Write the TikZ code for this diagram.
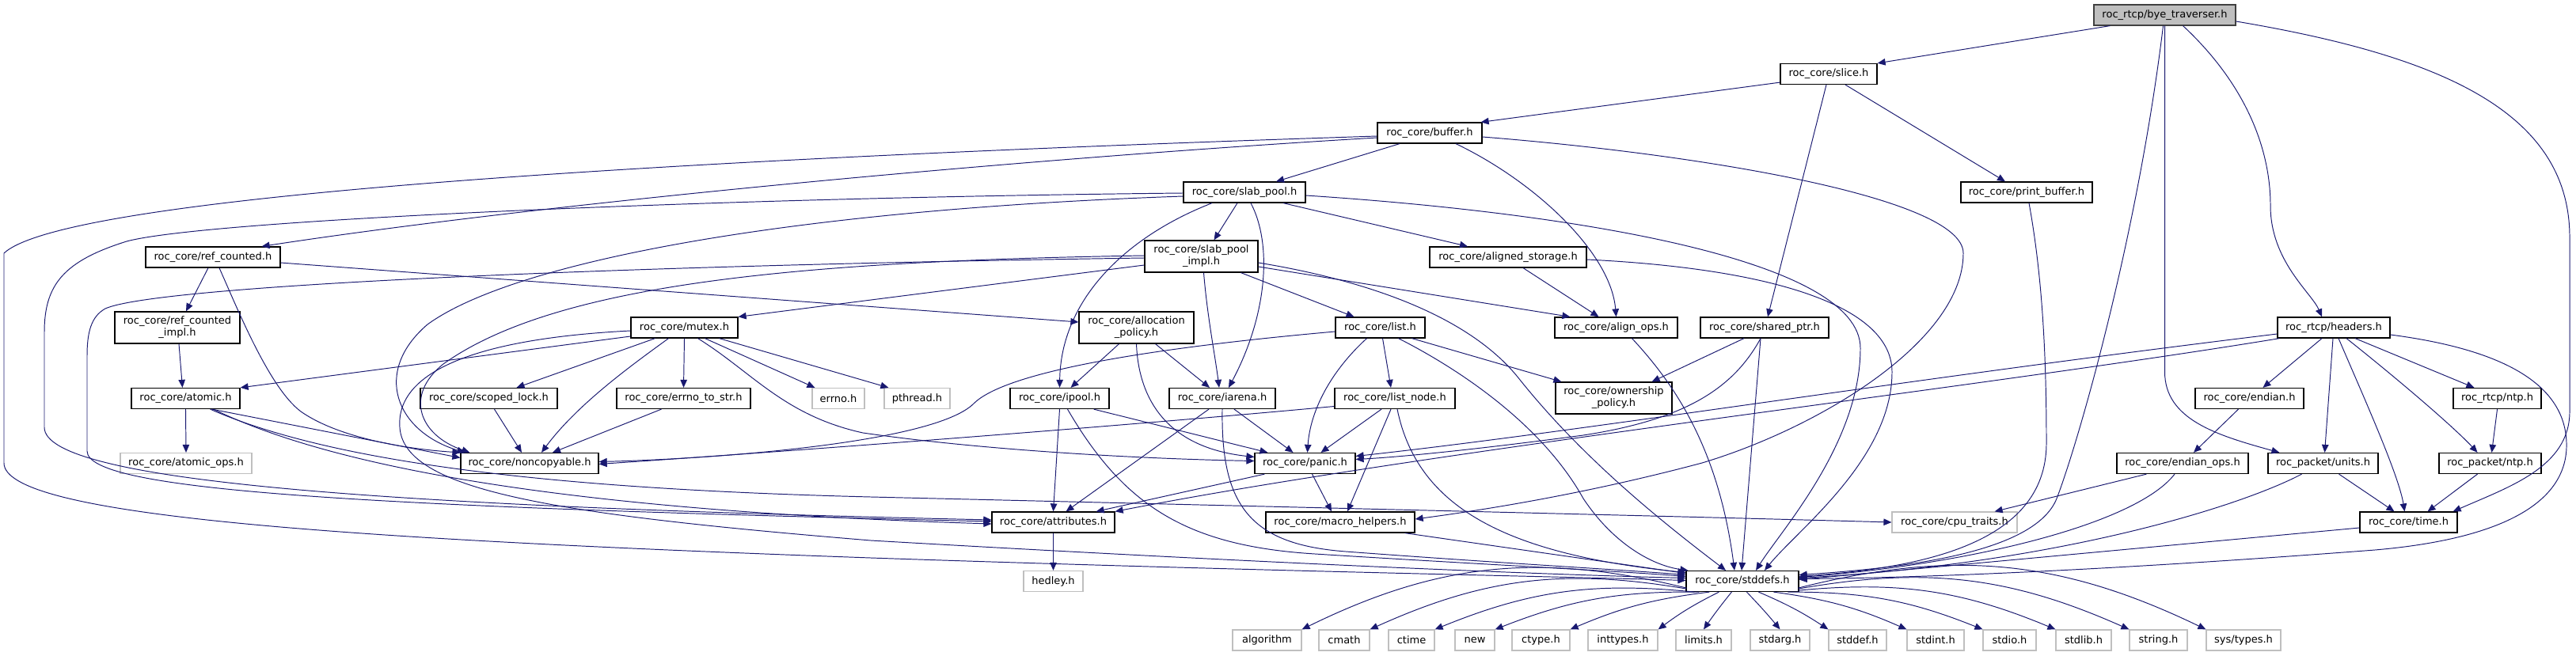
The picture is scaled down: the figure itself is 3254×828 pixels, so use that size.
\documentclass[tikz,border=0pt]{standalone}
\usepackage{fontspec}
\setmainfont{DejaVu Sans}
\usepackage{tikz}
\usetikzlibrary{arrows.meta, calc}
\definecolor{depblue}{RGB}{25,25,112}
\definecolor{sysgray}{RGB}{191,191,191}
\definecolor{rootline}{RGB}{64,64,64}

\begin{document}
\begin{tikzpicture}[
  x=0.02cm, y=-0.02cm,
  font=\fontsize{7.4}{8.6}\selectfont,
  hdr/.style={draw=black, line width=0.7pt, fill=white, inner sep=0pt, minimum height=0.52cm, align=center},
  hdr2/.style={hdr, minimum height=0.8cm},
  syshdr/.style={hdr, draw=sysgray},
  roothdr/.style={hdr, fill=sysgray, draw=rootline},
  wd/.style={minimum width=#1*0.02cm},
  dep/.style={draw=depblue, line width=0.55pt, -{Triangle[length=0.2cm, width=0.17cm]}}
]
  \useasboundingbox (0,0) rectangle (3254,828);

  \node[roothdr, wd=179] (bye) at (2734.5,19) {roc\_rtcp/bye\_traverser.h};
  \node[hdr, wd=122] (slice) at (2310,93.5) {roc\_core/slice.h};
  \node[hdr, wd=132] (buffer) at (1806,168) {roc\_core/buffer.h};
  \node[hdr, wd=154] (slabpool) at (1572,243) {roc\_core/slab\_pool.h};
  \node[hdr, wd=166] (printbuf) at (2560,243) {roc\_core/print\_buffer.h};
  \node[hdr, wd=170] (refcnt) at (269,325) {roc\_core/ref\_counted.h};
  \node[hdr2, wd=143] (slabimpl) at (1517.5,324) {roc\_core/slab\_pool\\\_impl.h};
  \node[hdr, wd=198] (alstore) at (1905,325) {roc\_core/aligned\_storage.h};
  \node[hdr2, wd=158] (refimpl) at (224,414) {roc\_core/ref\_counted\\\_impl.h};
  \node[hdr, wd=135] (mutex) at (864.5,414) {roc\_core/mutex.h};
  \node[hdr2, wd=145] (allocpol) at (1435.5,414) {roc\_core/allocation\\\_policy.h};
  \node[hdr, wd=113] (list) at (1743.5,414) {roc\_core/list.h};
  \node[hdr, wd=155] (alops) at (2041.5,414) {roc\_core/align\_ops.h};
  \node[hdr, wd=162] (shptr) at (2229,414) {roc\_core/shared\_ptr.h};
  \node[hdr, wd=142] (headers) at (2948,414) {roc\_rtcp/headers.h};
  \node[hdr, wd=137] (atomic) at (234.5,503.5) {roc\_core/atomic.h};
  \node[hdr, wd=173] (scoped) at (617.5,503.5) {roc\_core/scoped\_lock.h};
  \node[hdr, wd=169] (errstr) at (863.5,503.5) {roc\_core/errno\_to\_str.h};
  \node[syshdr, wd=66] (errno) at (1059,503.5) {errno.h};
  \node[syshdr, wd=83] (pthread) at (1158.5,503.5) {pthread.h};
  \node[hdr, wd=125] (ipool) at (1338.5,503.5) {roc\_core/ipool.h};
  \node[hdr, wd=134] (iarena) at (1544,503.5) {roc\_core/iarena.h};
  \node[hdr, wd=152] (listnode) at (1762,503.5) {roc\_core/list\_node.h};
  \node[hdr2, wd=147] (ownpol) at (2038.5,503) {roc\_core/ownership\\\_policy.h};
  \node[hdr, wd=137] (endian) at (2841.5,503.5) {roc\_core/endian.h};
  \node[hdr, wd=111] (rtcpntp) at (3154.5,503.5) {roc\_rtcp/ntp.h};
  \node[syshdr, wd=166] (atomops) at (235,585.5) {roc\_core/atomic\_ops.h};
  \node[hdr, wd=174] (noncopy) at (669,585.5) {roc\_core/noncopyable.h};
  \node[hdr, wd=127] (panic) at (1648.5,585.5) {roc\_core/panic.h};
  \node[hdr, wd=166] (endops) at (2757,585.5) {roc\_core/endian\_ops.h};
  \node[hdr, wd=139] (units) at (2934.5,585.5) {roc\_packet/units.h};
  \node[hdr, wd=129] (pktntp) at (3145.5,585.5) {roc\_packet/ntp.h};
  \node[hdr, wd=155] (attrs) at (1330.5,660) {roc\_core/attributes.h};
  \node[hdr, wd=188] (machelp) at (1693,660) {roc\_core/macro\_helpers.h};
  \node[syshdr, wd=158] (cputr) at (2469,660) {roc\_core/cpu\_traits.h};
  \node[hdr, wd=123] (time) at (3042.5,660) {roc\_core/time.h};
  \node[syshdr, wd=75] (hedley) at (1330.5,734.5) {hedley.h};
  \node[hdr, wd=142] (stddefs) at (2201,734.5) {roc\_core/stddefs.h};
  \foreach \n/\t/\x/\w in {alg/algorithm/1600.5/87, cmath/cmath/1698/64, ctime/ctime/1783/58,
      new/new/1863/50, ctype/ctype.h/1946.5/73, inttypes/inttypes.h/2050/88, limits/limits.h/2152/70,
      stdarg/stdarg.h/2248.5/75, stddef/stddef.h/2346.5/73, stdint/stdint.h/2445/72, stdio/stdio.h/2538.5/67,
      stdlib/stdlib.h/2632/70, string/string.h/2726.5/73, systypes/{sys/types.h}/2834/94} {
    \node[syshdr, wd=\w] (\n) at (\x,809) {\t};
  }

  \draw[dep] ($(bye.south west)+(21,0)$) -- (slice.north east);
  \draw[dep] ($(bye.south)+(-2,0)$) .. controls (2700,300) and (2625,560) .. (2598,630) .. controls (2570,700) and (2400,718) .. ($(stddefs.east)+(0,-8)$);
  \draw[dep] (bye.south) -- (2734.5,470) .. controls (2734.5,530) and (2800,550) .. ($(units.north west)+(15,0)$);
  \draw[dep] ($(bye.south)+(23,0)$) .. controls (2830,100) and (2868,180) .. (2868,260) .. controls (2868,330) and (2920,370) .. ($(headers.north)+(-15,0)$);
  \draw[dep] ($(bye.east)+(0,8)$) .. controls (3080,70) and (3246,140) .. (3246,300) -- (3246,520) .. controls (3246,590) and (3170,615) .. ($(time.north east)+(-6,0)$);

  \draw[dep] ($(slice.south west)+(0,-3)$) -- ($(buffer.north east)+(-2,0)$);
  \draw[dep] ($(slice.south)+(-3,0)$) -- ($(shptr.north)+(4,0)$);
  \draw[dep] ($(slice.south)+(21,0)$) -- ($(printbuf.north)+(-27,0)$);

  \draw[dep] ($(buffer.south)+(-38,0)$) -- ($(slabpool.north)+(40,0)$);
  \draw[dep] ($(buffer.west)+(0,6)$) .. controls (1300,200) and (700,255) .. ($(refcnt.north east)+(-24,0)$);
  \draw[dep] ($(buffer.west)+(0,4)$) .. controls (1000,196) and (90,240) .. (5,320) -- (5,585) .. controls (5,650) and (400,680) .. (1100,705) .. controls (1600,722) and (1950,728) .. ($(stddefs.west)+(0,-1)$);
  \draw[dep] ($(buffer.south)+(33,0)$) .. controls (1940,230) and (2035,320) .. (alops.north);
  \draw[dep] ($(buffer.east)+(0,5)$) .. controls (2150,195) and (2480,250) .. (2480,320) .. controls (2480,430) and (2300,540) .. (2150,585) .. controls (2000,625) and (1870,645) .. ($(machelp.east)+(0,-4)$);

  \draw[dep] ($(slabpool.south)+(-9,0)$) -- ($(slabimpl.north)+(16,0)$);
  \draw[dep] ($(slabpool.south)+(49,0)$) -- ($(alstore.north)+(-51,0)$);
  \draw[dep] ($(slabpool.east)+(0,4)$) .. controls (2000,270) and (2350,330) .. (2350,440) .. controls (2350,560) and (2250,670) .. ($(stddefs.north)+(17,0)$);
  \draw[dep] ($(slabpool.south)+(8,0)$) .. controls (1608,310) and (1600,400) .. ($(iarena.north)+(8,0)$);
  \draw[dep] ($(slabpool.south)+(-41,0)$) .. controls (1420,300) and (1340,380) .. (ipool.north);
  \draw[dep] ($(slabpool.west)+(0,1)$) .. controls (900,250) and (260,278) .. (160,305) .. controls (80,330) and (56,360) .. (56,420) -- (56,540) .. controls (56,610) and (500,640) .. ($(attrs.west)+(0,-3)$);
  \draw[dep] ($(slabpool.west)+(0,5)$) .. controls (1000,265) and (650,330) .. (540,410) .. controls (470,470) and (500,545) .. ($(noncopy.north west)+(6,0)$);

  \draw[dep] ($(slabimpl.south)+(50,0)$) -- ($(list.north)+(-33,0)$);
  \draw[dep] ($(slabimpl.east)+(0,13)$) -- ($(alops.north west)+(20,0)$);
  \draw[dep] ($(slabimpl.east)+(0,8)$) .. controls (1700,350) and (1850,390) .. (1920,480) .. controls (2000,580) and (2100,660) .. ($(stddefs.north)+(-21,0)$);
  \draw[dep] ($(slabimpl.south)+(3,0)$) .. controls (1525,400) and (1535,450) .. ($(iarena.north)+(-4,0)$);
  \draw[dep] ($(slabimpl.west)+(0,2)$) .. controls (800,335) and (200,360) .. (133,390) .. controls (115,400) and (110,420) .. (110,450) -- (110,570) .. controls (110,620) and (450,640) .. ($(attrs.west)+(0,-1)$);
  \draw[dep] ($(slabimpl.west)+(0,-1)$) .. controls (1000,330) and (700,360) .. (560,460) .. controls (510,500) and (530,550) .. ($(noncopy.north west)+(12,0)$);
  \draw[dep] ($(slabimpl.west)+(0,11)$) -- (mutex.north east);

  \draw[dep] ($(alstore.south)+(19,0)$) -- ($(alops.north)+(-22,0)$);
  \draw[dep] ($(alstore.east)+(0,3)$) .. controls (2250,340) and (2390,390) .. (2390,470) .. controls (2390,580) and (2270,670) .. ($(stddefs.north)+(28,0)$);
  \draw[dep] ($(printbuf.south)+(3,0)$) .. controls (2580,350) and (2585,450) .. (2585,560) .. controls (2585,690) and (2420,718) .. ($(stddefs.east)+(0,-6)$);

  \draw[dep] ($(refcnt.south)+(-6,0)$) -- ($(refimpl.north)+(11,0)$);
  \draw[dep] ($(refcnt.south)+(8,0)$) .. controls (300,390) and (340,490) .. (380,520) .. controls (430,555) and (520,568) .. (noncopy.north west);
  \draw[dep] ($(refcnt.east)+(0,7)$) -- ($(allocpol.west)+(0,-7)$);
  \draw[dep] ($(refimpl.south)+(2,0)$) -- ($(atomic.north)+(-4,0)$);

  \draw[dep] ($(mutex.west)+(0,11)$) -- (atomic.north east);
  \draw[dep] ($(mutex.south)+(-37,0)$) -- ($(scoped.north)+(35,0)$);
  \draw[dep] ($(mutex.south)+(-20,0)$) .. controls (800,460) and (730,510) .. ($(noncopy.north)+(15,0)$);
  \draw[dep] (mutex.south) -- (errstr.north);
  \draw[dep] ($(mutex.south)+(26,0)$) -- ($(errno.north west)+(4,0)$);
  \draw[dep] ($(mutex.south)+(44,0)$) -- ($(pthread.north west)+(6,0)$);
  \draw[dep] ($(mutex.south)+(17,0)$) .. controls (950,470) and (990,525) .. (1090,547) .. controls (1250,570) and (1450,580) .. ($(panic.west)+(0,-3)$);
  \draw[dep] ($(mutex.west)+(0,4)$) .. controls (600,428) and (500,470) .. (505,540) .. controls (510,620) and (700,650) .. (1100,683) .. controls (1600,712) and (1950,726) .. ($(stddefs.west)+(0,-4)$);

  \draw[dep] (atomic.south) -- (atomops.north);
  \draw[dep] ($(atomic.south east)+(-36,0)$) -- ($(noncopy.west)+(0,-7)$);
  \draw[dep] ($(atomic.south east)+(-38,0)$) .. controls (420,585) and (700,618) .. (1100,628) .. controls (1600,640) and (2100,652) .. (cputr.west);
  \draw[dep] ($(atomic.south east)+(-34,0)$) .. controls (450,605) and (800,648) .. ($(attrs.west)+(0,2)$);
  \draw[dep] ($(scoped.south)+(7,0)$) -- ($(noncopy.north)+(-10,0)$);
  \draw[dep] ($(errstr.south)+(-28,0)$) -- ($(noncopy.north)+(29,0)$);

  \draw[dep] ($(allocpol.south)+(-22,0)$) -- ($(ipool.north)+(14,0)$);
  \draw[dep] ($(allocpol.south)+(24,0)$) -- ($(iarena.north)+(-16,0)$);
  \draw[dep] (allocpol.south) .. controls (1438,500) and (1470,565) .. ($(panic.west)+(0,-8)$);

  \draw[dep] ($(list.west)+(0,5)$) .. controls (1450,440) and (1270,470) .. (1230,510) .. controls (1180,560) and (900,580) .. ($(noncopy.east)+(0,-2)$);
  \draw[dep] ($(list.south)+(-17,0)$) .. controls (1680,470) and (1655,520) .. ($(panic.north)+(3,0)$);
  \draw[dep] ($(list.south)+(3,0)$) -- ($(listnode.north)+(-5,0)$);
  \draw[dep] ($(list.south)+(40,0)$) -- ($(ownpol.north west)+(8,0)$);
  \draw[dep] ($(list.south)+(23,0)$) .. controls (1850,470) and (1950,540) .. (2000,630) .. controls (2040,690) and (2090,715) .. ($(stddefs.north west)+(3,0)$);

  \draw[dep] ($(listnode.west)+(0,10)$) .. controls (1400,540) and (1000,570) .. ($(noncopy.east)+(0,1)$);
  \draw[dep] ($(listnode.south)+(-17,0)$) -- ($(panic.north)+(20,0)$);
  \draw[dep] ($(listnode.south)+(-5,0)$) -- ($(machelp.north)+(9,0)$);
  \draw[dep] ($(listnode.south)+(3,0)$) .. controls (1790,640) and (1900,700) .. ($(stddefs.west)+(0,-11)$);

  \draw[dep] (ipool.south) -- (attrs.north);
  \draw[dep] ($(ipool.south east)+(-20,0)$) -- ($(panic.north west)+(17,0)$);
  \draw[dep] ($(ipool.south)+(10,0)$) .. controls (1420,640) and (1500,690) .. (1661,700) .. controls (1850,712) and (2050,722) .. ($(stddefs.west)+(0,-6)$);
  \draw[dep] ($(iarena.south)+(-17,0)$) -- ($(attrs.north)+(16,0)$);
  \draw[dep] ($(iarena.south)+(15,0)$) -- ($(panic.north)+(-15,0)$);
  \draw[dep] (iarena.south) .. controls (1542,640) and (1580,688) .. (1700,697) .. controls (1900,712) and (2050,720) .. ($(stddefs.west)+(0,-8)$);

  \draw[dep] ($(panic.south west)+(13,0)$) -- ($(attrs.north east)+(-24,0)$);
  \draw[dep] ($(panic.south)+(9,0)$) -- ($(machelp.north)+(-11,0)$);
  \draw[dep] (attrs.south) -- (hedley.north);
  \draw[dep] ($(machelp.south east)+(-13,0)$) -- ($(stddefs.west)+(0,-10)$);

  \draw[dep] ($(alops.south)+(20,0)$) .. controls (2110,480) and (2170,560) .. ($(stddefs.north)+(-10,0)$);
  \draw[dep] ($(shptr.south)+(-26,0)$) -- ($(ownpol.north east)+(-26,0)$);
  \draw[dep] ($(shptr.south)+(-5,0)$) .. controls (2190,490) and (2130,530) .. (2000,550) .. controls (1850,570) and (1760,578) .. ($(panic.east)+(0,-5)$);
  \draw[dep] ($(shptr.south)+(-5,0)$) -- ($(stddefs.north)+(-1,0)$);

  \draw[dep] ($(headers.west)+(0,8)$) .. controls (2400,480) and (2000,545) .. ($(panic.east)+(0,-9)$);
  \draw[dep] ($(headers.south west)+(3,0)$) .. controls (2500,490) and (1800,570) .. (attrs.north east);
  \draw[dep] ($(headers.south)+(-15,0)$) -- ($(endian.north)+(17,0)$);
  \draw[dep] ($(headers.south)+(-1,0)$) -- ($(units.north)+(2,0)$);
  \draw[dep] ($(headers.south)+(6,0)$) .. controls (2985,500) and (3030,600) .. ($(time.north)+(-5,0)$);
  \draw[dep] ($(headers.south)+(16,0)$) .. controls (3030,480) and (3100,540) .. ($(pktntp.north)+(-16,0)$);
  \draw[dep] ($(headers.south)+(27,0)$) -- ($(rtcpntp.north west)+(27,0)$);
  \draw[dep] ($(headers.east)+(0,9)$) .. controls (3150,440) and (3240,480) .. (3242,560) .. controls (3244,640) and (3150,682) .. (3000,695) .. controls (2700,718) and (2450,730) .. ($(stddefs.east)+(0,-3)$);

  \draw[dep] ($(endian.south)+(-14,0)$) -- ($(endops.north)+(14,0)$);
  \draw[dep] (rtcpntp.south) -- ($(pktntp.north)+(2,0)$);
  \draw[dep] ($(endops.south west)+(38,0)$) -- ($(cputr.north east)+(-29,0)$);
  \draw[dep] ($(endops.south)+(-10,0)$) .. controls (2700,660) and (2500,712) .. ($(stddefs.east)+(0,-5)$);
  \draw[dep] ($(units.south)+(20,0)$) -- ($(time.north)+(-18,0)$);
  \draw[dep] ($(units.south)+(-27,0)$) .. controls (2830,640) and (2600,712) .. ($(stddefs.east)+(0,-4)$);
  \draw[dep] ($(pktntp.south)+(-16,0)$) -- ($(time.north)+(24,0)$);
  \draw[dep] ($(time.west)+(0,7)$) -- ($(stddefs.east)+(0,-2)$);

  \foreach \n/\sx/\sy/\a/\b in {alg/1/-5/north east/20, cmath/1/-4/north east/17, ctime/11/0/north east/14,
      new/17/0/north east/11, ctype/30/0/north east/8, inttypes/42/0/north east/5, limits/58/0/north/2,
      stdarg/77/0/north/-2, stddef/92/0/north west/-5, stdint/111/0/north west/-8, stdio/129/0/north west/-11,
      stdlib/142/-2/north west/-14, string/142/-4/north west/-17, systypes/142/-5/north west/-20} {
    \draw[dep] ($(stddefs.south west)+(\sx,\sy)$) to[bend right=\b] (\n.\a);
  }
\end{tikzpicture}
\end{document}
